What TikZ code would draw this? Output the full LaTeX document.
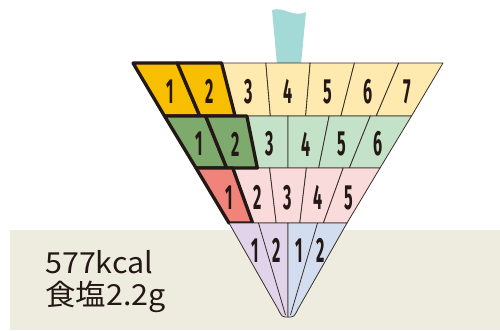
\documentclass[tikz,border=0pt]{standalone}
\usepackage{fontspec}
\newfontfamily\jpfont[FakeStretch=1.05]{Noto Sans CJK JP}
\newfontfamily\numfont[FakeStretch=0.46]{Fira Sans}
\definecolor{ink}{HTML}{231815}
\definecolor{thin}{HTML}{3A2E28}
\definecolor{bgpanel}{HTML}{EEEBDF}
\definecolor{straw}{HTML}{A3D9D6}
\definecolor{yelLight}{HTML}{FEE9AE}
\definecolor{yelHi}{HTML}{F8BE00}
\definecolor{grnLight}{HTML}{C3E2C8}
\definecolor{grnHi}{HTML}{7EAA6E}
\definecolor{pnkLight}{HTML}{FADBDB}
\definecolor{pnkHi}{HTML}{F0847A}
\definecolor{lavender}{HTML}{E1D4EA}
\definecolor{paleblue}{HTML}{D2DEF0}
\tikzset{
  cellline/.style={draw=thin, line width=0.8pt, line join=round},
  boldcell/.style={draw=ink, line width=3.3pt, line join=round},
  numlabel/.style={font=\numfont\bfseries\fontsize{35}{35}\selectfont, text=ink, inner sep=0pt},
  infotext/.style={font=\jpfont\fontsize{29}{31}\selectfont, text=ink, inner sep=0pt, anchor=base west}
}
% cells of one band: top y, bottom y, top half width, bottom half width, cells, fill
\newcommand{\bandcells}[6]{%
  \foreach \k in {1,...,#5}{
    \filldraw[cellline, fill=#6]
      ({288-#3+2*#3*(\k-1)/#5},#1) -- ({288-#3+2*#3*\k/#5},#1)
      -- ({288-#4+2*#4*\k/#5},#2) -- ({288-#4+2*#4*(\k-1)/#5},#2) -- cycle;
  }
}
% numbers of one band; the first #6 cells (outlined) get a small shift right
\newcommand{\bandnums}[7]{%
  \foreach \k in {1,...,#5}{
    \pgfmathsetmacro{\dx}{\k<=#6 ? 1.5 : 0}
    \node[numlabel] (#7\k) at ({288-(#3+#4)/2+(#3+#4)*(\k-0.5)/#5+\dx},{(#1+#2)/2+2}) {\k};
  }
}
% an outlined cell of a band
\newcommand{\hicell}[7]{%
  \filldraw[boldcell, fill=#7]
    ({288-#3+2*#3*(#6-1)/#5},#1) -- ({288-#3+2*#3*#6/#5},#1)
    -- ({288-#4+2*#4*#6/#5},#2) -- ({288-#4+2*#4*(#6-1)/#5},#2) -- cycle;
}
\begin{document}
\begin{tikzpicture}[x=1pt,y=-1pt]
\useasboundingbox (0,0) rectangle (500,330);
% panel behind the lower part
\fill[bgpanel] (10,230) rectangle (500,330);
% straw
\fill[straw] (272,10) .. controls (284,6) and (292,18) .. (306,12)
  -- (301,64) -- (277,64) -- cycle;
% bands
\bandcells{63}{116}{155}{123.5}{7}{yelLight}
\bandcells{116}{168}{123.5}{92}{6}{grnLight}
\bandcells{168}{223}{92}{59}{5}{pnkLight}
% outlined cells
\hicell{63}{116}{155}{123.5}{7}{1}{yelHi}
\hicell{63}{116}{155}{123.5}{7}{2}{yelHi}
\hicell{116}{168}{123.5}{92}{6}{1}{grnHi}
\hicell{116}{168}{123.5}{92}{6}{2}{grnHi}
\hicell{168}{223}{92}{59}{5}{1}{pnkHi}
% numbers
\bandnums{63}{116}{155}{123.5}{7}{2}{a}
\bandnums{116}{168}{123.5}{92}{6}{2}{b}
\bandnums{168}{223}{92}{59}{5}{1}{c}
% cone
\coordinate (tip) at (288,317);
\filldraw[cellline, fill=lavender] (229,223) -- (288,223) -- (tip)
  .. controls (282,317) .. (278,309) -- cycle;
\filldraw[cellline, fill=paleblue] (347,223) -- (288,223) -- (tip)
  .. controls (294,317) .. (298,309) -- cycle;
\coordinate (dl) at (285.5,315);
\coordinate (dr) at (290.5,315);
\draw[cellline] (258.5,223) -- (dl);
\draw[cellline] (317.5,223) -- (dr);
\node[numlabel] (d1) at (255,250.5) {1};
\node[numlabel] (d2) at (277,250.5) {2};
\node[numlabel] (d3) at (299.5,250.5) {1};
\node[numlabel] (d4) at (321,250.5) {2};
% nutrition text
\node[infotext] (kcal) at (45,273) {577kcal};
\node[infotext] (salt) at (45,305) {食塩2.2g};
\end{tikzpicture}
\end{document}
